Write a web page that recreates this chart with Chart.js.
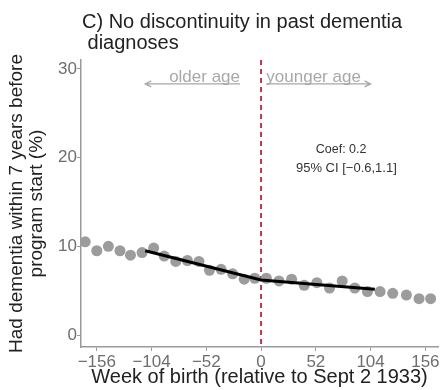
<!DOCTYPE html>
<html>
<head>
<meta charset="utf-8">
<script src="https://cdn.jsdelivr.net/npm/chart.js@4"></script>
<style>
  body { margin: 0; background: #fff; }
  canvas { display: block; }
</style>
</head>
<body>
<canvas id="grafico" width="444" height="390"></canvas>
<script>
// binned means, week of birth relative to cutoff
const semanas = [-167, -156, -145, -134, -124, -113, -102, -92, -81, -70, -59, -49, -38, -27, -16, -6,
  5, 17, 29, 41, 53, 65, 77, 89, 101, 113, 125, 138, 150, 161];
const valores = [10.5, 9.5, 10.0, 9.5, 9.0, 9.3, 9.8, 8.9, 8.3, 8.4, 8.3, 7.3, 7.4, 6.9, 6.3, 6.4,
  6.4, 6.1, 6.3, 5.6, 5.9, 5.3, 6.1, 5.3, 4.9, 4.9, 4.7, 4.5, 4.1, 4.1];

// fitted line (local linear on each side)
const ajusteSemanas = [-110, 0, 108];
const ajusteValores = [9.5, 6.2, 5.15];

const xTicks = [-156, -104, -52, 0, 52, 104, 156];
const yTicks = [0, 10, 20, 30];
const corte = 0;

const titulo = ["C) No discontinuity in past dementia", " diagnoses"];
const tituloX = "Week of birth (relative to Sept 2 1933)";
const tituloY = ["Had dementia within 7 years before", "program start (%)"];
const coefTexto = ["Coef: 0.2", "95% CI [\u22120.6,1.1]"];

const fonte = "'Liberation Sans', Arial, Helvetica, sans-serif";
const cinzaEixo = "#9a9a9a";
const cinzaTexto = "#6e6e6e";

function menos(v) {
  return v < 0 ? "\u2212" + Math.abs(v) : String(v);
}

function seta(ctx, x1, x2, y, lado) {
  ctx.beginPath();
  ctx.moveTo(x1, y);
  ctx.lineTo(x2, y);
  const px = lado < 0 ? x1 : x2;
  ctx.moveTo(px - lado * 6, y - 3);
  ctx.lineTo(px, y);
  ctx.lineTo(px - lado * 6, y + 3);
  ctx.stroke();
}

const extras = {
  id: "extras",
  beforeDatasetsDraw(chart) {
    const { ctx, chartArea, scales } = chart;
    const x0 = scales.x.getPixelForValue(corte);
    ctx.save();
    ctx.strokeStyle = "#b3394c";
    ctx.lineWidth = 2;
    ctx.setLineDash([5, 4]);
    ctx.beginPath();
    ctx.moveTo(x0, chartArea.top);
    ctx.lineTo(x0, chartArea.bottom);
    ctx.stroke();
    ctx.restore();
  },
  afterDraw(chart) {
    const { ctx, chartArea, scales } = chart;
    const sx = scales.x, sy = scales.y;
    ctx.save();

    // title
    ctx.fillStyle = "#222";
    ctx.font = "20px " + fonte;
    ctx.textAlign = "left";
    ctx.textBaseline = "middle";
    ctx.fillText(titulo[0], 82, 22);
    ctx.fillText(titulo[1], 82, 43);

    // axis titles
    ctx.textAlign = "center";
    ctx.fillText(tituloX, (chartArea.left + chartArea.right) / 2, 377);
    const meioY = (chartArea.top + chartArea.bottom) / 2;
    ctx.save();
    ctx.translate(17, meioY);
    ctx.rotate(-Math.PI / 2);
    ctx.font = "19px " + fonte;
    ctx.fillText(tituloY[0], 0, 0);
    ctx.fillText(tituloY[1], 0, 20);
    ctx.restore();

    // older / younger arrows
    ctx.strokeStyle = "#a8a8a8";
    ctx.fillStyle = "#a8a8a8";
    ctx.lineWidth = 1.3;
    ctx.font = "17px " + fonte;
    ctx.textBaseline = "alphabetic";
    const ySeta = sy.getPixelForValue(28.3);
    ctx.textAlign = "right";
    ctx.fillText("older age", sx.getPixelForValue(-20), ySeta - 2);
    seta(ctx, sx.getPixelForValue(-110), sx.getPixelForValue(-20), ySeta, -1);
    ctx.textAlign = "left";
    ctx.fillText("younger age", sx.getPixelForValue(5), ySeta - 2);
    seta(ctx, sx.getPixelForValue(5), sx.getPixelForValue(104), ySeta, 1);

    // coefficient
    ctx.fillStyle = "#333";
    ctx.textAlign = "center";
    ctx.textBaseline = "middle";
    ctx.font = "12.5px " + fonte;
    ctx.fillText(coefTexto[0], sx.getPixelForValue(76), sy.getPixelForValue(20.9));
    ctx.font = "13px " + fonte;
    ctx.fillText(coefTexto[1], sx.getPixelForValue(81), sy.getPixelForValue(18.8));

    ctx.restore();
  }
};

const ctxGrafico = document.getElementById("grafico");

const grafico = new Chart(ctxGrafico, {
  type: "scatter",
  data: {
    datasets: [
      {
        label: "Ajuste",
        type: "line",
        data: ajusteSemanas.map((s, i) => ({ x: s, y: ajusteValores[i] })),
        borderColor: "#000",
        borderWidth: 3,
        pointRadius: 0,
        fill: false,
        order: 0
      },
      {
        label: "Médias",
        data: semanas.map((s, i) => ({ x: s, y: valores[i] })),
        backgroundColor: "#9c9c9c",
        borderWidth: 0,
        pointRadius: 5.5,
        order: 1
      }
    ]
  },
  options: {
    responsive: false,
    animation: false,
    layout: { padding: { top: 60, right: 6, left: 0, bottom: 0 } },
    plugins: { legend: { display: false }, tooltip: { enabled: false } },
    scales: {
      x: {
        type: "linear",
        min: -171,
        max: 168,
        afterBuildTicks: (s) => { s.ticks = xTicks.map(v => ({ value: v })); },
        afterFit: (s) => { s.height = 43; },
        ticks: {
          autoSkip: false,
          maxRotation: 0,
          padding: 1,
          color: cinzaTexto,
          font: { family: fonte, size: 17 },
          callback: (v) => menos(v)
        },
        grid: { drawOnChartArea: false, drawTicks: true, tickLength: 4, color: cinzaEixo },
        border: { color: cinzaEixo, width: 1.5 }
      },
      y: {
        min: -1.35,
        max: 31,
        afterBuildTicks: (s) => { s.ticks = yTicks.map(v => ({ value: v })); },
        afterFit: (s) => { s.width = 81; },
        ticks: {
          padding: 0,
          color: cinzaTexto,
          font: { family: fonte, size: 17 },
          callback: (v) => menos(v)
        },
        grid: { drawOnChartArea: false, drawTicks: true, tickLength: 4, color: cinzaEixo },
        border: { color: cinzaEixo, width: 1.5 }
      }
    }
  },
  plugins: [extras]
});
</script>
</body>
</html>
